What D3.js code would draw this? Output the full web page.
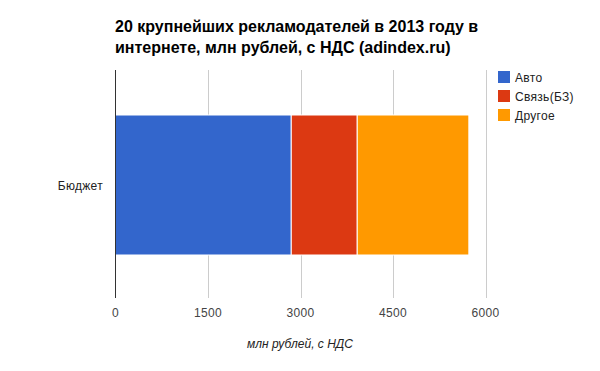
<!DOCTYPE html>
<html><head><meta charset="utf-8">
<script src="https://cdn.jsdelivr.net/npm/d3@7"></script>
<style>body{margin:0;background:#fff;}svg{display:block;font-family:Arial,"Liberation Sans",sans-serif;}</style>
</head><body>
<svg id="c" width="600" height="371"></svg>
<script>
const categories = ["Бюджет"];
const seriesNames = ["Авто", "Связь(БЗ)", "Другое"];
const seriesColors = ["#3366cc", "#dc3912", "#ff9900"];
const avto = [2850];
const svyaz = [1070];
const drugoe = [1810];
const xTicks = [0, 1500, 3000, 4500, 6000];
const titleLines = ["20 крупнейших рекламодателей в 2013 году в", "интернете, млн рублей, с НДС (adindex.ru)"];
const xTitle = "млн рублей, с НДС";

const svg = d3.select("#c");
const m = {left:115.5, right:485.5, top:70, bottom:298};
const x = d3.scaleLinear().domain([0, 6000]).range([m.left, m.right]);
const y = d3.scaleBand().domain(categories).range([m.top + 1, m.bottom + 1]).paddingInner(0).paddingOuter(0.3143);

const data = categories.map((c,i)=>({cat:c, "Авто":avto[i], "Связь(БЗ)":svyaz[i], "Другое":drugoe[i]}));
const stacked = d3.stack().keys(seriesNames)(data);

// title
svg.append("g").selectAll("text").data(titleLines).join("text")
  .attr("x", 115).attr("y", 32).attr("dy", (d,i)=>i*21)
  .attr("font-size", 16).attr("font-weight", "bold").attr("fill", "#000").text(d=>d);

// gridlines
svg.append("g").selectAll("line").data(xTicks.slice(1)).join("line")
  .attr("x1", d=>Math.round(x(d))+0.5).attr("x2", d=>Math.round(x(d))+0.5)
  .attr("y1", m.top).attr("y2", m.bottom).attr("stroke", "#cccccc").attr("stroke-width", 1);

// bars
svg.append("g").selectAll("g").data(stacked).join("g")
  .attr("fill", (d,i)=>seriesColors[i])
  .selectAll("rect").data(d=>d).join("rect")
  .attr("x", d=>x(d[0])).attr("width", d=>x(d[1])-x(d[0]))
  .attr("y", d=>y(d.data.cat)).attr("height", y.bandwidth())
  .attr("stroke", "#fff").attr("stroke-width", 1);

// axis line
svg.append("line").attr("x1", m.left).attr("x2", m.left).attr("y1", m.top).attr("y2", m.bottom)
  .attr("stroke", "#333").attr("stroke-width", 1);

const small = 12, ls = 0.3;
// tick labels
svg.append("g").selectAll("text").data(xTicks).join("text")
  .attr("x", d=>x(d)).attr("y", 317).attr("text-anchor", "middle")
  .attr("font-size", small).attr("letter-spacing", ls).attr("fill", "#444").text(d=>d);

// category labels
svg.append("g").selectAll("text").data(categories).join("text")
  .attr("x", 103).attr("y", d=>y(d)+y.bandwidth()/2+4.5).attr("text-anchor", "end")
  .attr("font-size", small).attr("letter-spacing", ls).attr("fill", "#222").text(d=>d);

// x title
svg.append("text").attr("x", 300).attr("y", 348).attr("text-anchor", "middle")
  .attr("font-size", small).attr("font-style", "italic").attr("fill", "#222").text(xTitle);

// legend
const lg = svg.append("g").selectAll("g").data(seriesNames).join("g")
  .attr("transform", (d,i)=>`translate(498,${71 + i*19})`);
lg.append("rect").attr("width", 12).attr("height", 12).attr("fill", (d,i)=>seriesColors[i]);
lg.append("text").attr("x", 17).attr("y", 10.5).attr("font-size", small).attr("letter-spacing", ls).attr("fill", "#222").text(d=>d);
</script>
</body></html>
